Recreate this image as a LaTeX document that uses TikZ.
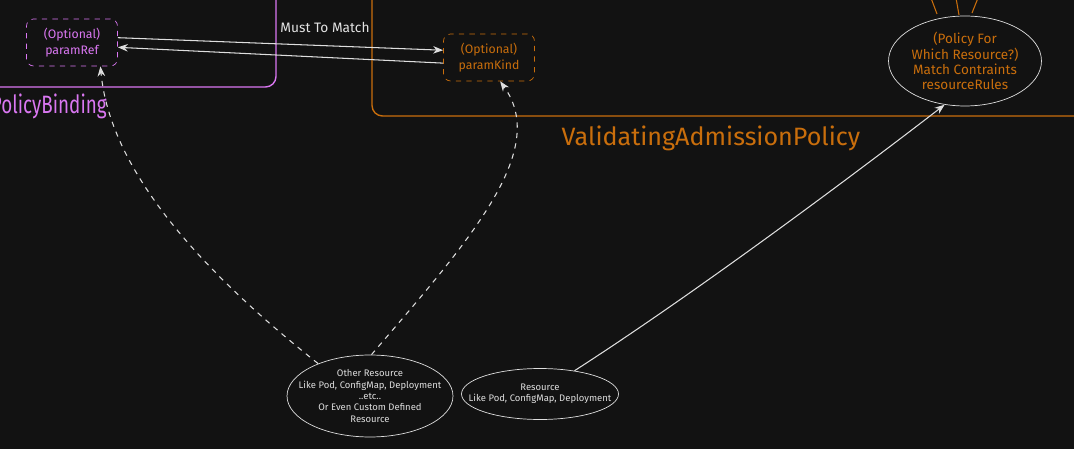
\documentclass[tikz,border=0pt]{standalone}
\usepackage{fontspec}
\setmainfont{Fira Sans}
\usetikzlibrary{shapes.geometric,arrows.meta,positioning,calc}
\definecolor{VAPink}  {RGB}{218,119,242}
\definecolor{VAOrange}{RGB}{201,110, 12}
\definecolor{VABack}  {RGB}{ 18, 18, 18}
\definecolor{VALine}  {RGB}{222,222,222}

\begin{document}
\begin{tikzpicture}[
  x=0.02cm, y=-0.02cm,
  param/.style   = {draw, dashed, rounded corners=4pt,
                    minimum width=1.82cm, minimum height=0.94cm,
                    align=center, font=\fontsize{7}{9}\selectfont},
  res/.style     = {draw=VALine, ellipse, inner sep=0pt},
  restext/.style = {align=center, text=VALine, inner sep=0pt,
                    font=\fontsize{5.4}{6.5}\selectfont},
  title/.style   = {font=\fontsize{14.3}{16}\selectfont},
  arr/.style     = {-Stealth, VALine, semithick}
]
\fill[VABack] (0,0) rectangle (1074,449);
\path[use as bounding box] (0,0) rectangle (1074,449);
\clip (0,0) rectangle (1074,449);

% containers
\draw[VAPink, line width=0.8pt, rounded corners=6pt]
  (-20,-20) rectangle (276,87);
\node[title, text=VAPink, anchor=base east, inner sep=0pt] (pbtitle) at (107,114)
  {\scalebox{0.75}[1]{ValidatingAdmissionPolicyBinding}};
\draw[VAOrange, line width=0.8pt, rounded corners=6pt]
  (372,-20) rectangle (1100,116);
\node[title, text=VAOrange] (vaptitle) at (711,138)
  {ValidatingAdmissionPolicy};

% parameter boxes
\node[param, draw=VAPink, text=VAPink] (pref) at (72,42.5)
  {(Optional)\\paramRef};
\node[param, draw=VAOrange, text=VAOrange] (pkind) at (489,57.5)
  {(Optional)\\paramKind};

% match constraints
\node[res, minimum width=3.06cm, minimum height=1.8cm] (match) at (965,61) {};
\node[restext, text=VAOrange, font=\fontsize{7.7}{8.6}\selectfont] (matchtxt) at (match)
  {(Policy For\\Which Resource?)\\Match Contraints\\resourceRules};
\draw[VAOrange, semithick] (931,-2)--(937,14);
\draw[VAOrange, semithick] (956,-2)--(959,15);
\draw[VAOrange, semithick] (978,-2)--(972,13);

% resources
\node[res, minimum width=3.32cm, minimum height=1.64cm] (other) at (370,396) {};
\node[restext] (othertxt) at (other)
  {Other Resource\\Like Pod, ConfigMap, Deployment\\..etc..\\Or Even Custom Defined\\Resource};
\node[res, minimum width=3.14cm, minimum height=1.02cm] (resource) at (540,394) {};
\node[restext] (resourcetxt) at (resource)
  {Resource\\Like Pod, ConfigMap, Deployment};

% connectors
\draw[arr] (pref.6)--(pkind.171);
\draw[arr] (pkind.187)--(pref.-6);
\node[text=VALine!85, font=\fontsize{7.8}{9}\selectfont] (musttxt) at (325,27)
  {Must To Match};
\draw[arr, dashed] (other.148) .. controls (200,270) and (110,170) .. (pref.-40);
\draw[arr, dashed] (other.88) .. controls (470,240) and (550,150) .. (pkind.-65);
\draw[arr] (resource.34) .. controls (700,290) and (860,170) .. (match.-115);
\end{tikzpicture}
\end{document}
